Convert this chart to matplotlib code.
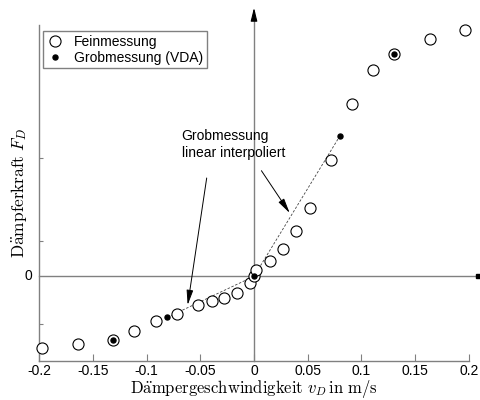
import matplotlib
matplotlib.use('Agg')
import matplotlib.pyplot as plt
import matplotlib.transforms as mtransforms

plt.rcParams['font.family'] = ['Liberation Sans', 'DejaVu Sans']
plt.rcParams['mathtext.fontset'] = 'cm'

# Feinmessung (open circles)
fein_v = [-0.197, -0.164, -0.131, -0.112, -0.091, -0.072, -0.052, -0.039, -0.0275,
          -0.0158, -0.0034, 0.0, 0.0022, 0.0149, 0.027, 0.039, 0.0518, 0.0714,
          0.0909, 0.1107, 0.130, 0.1634, 0.1963]
fein_f = [-72, -68, -64, -55, -45, -38, -29, -25, -22, -17, -7, 0, 6.6, 15, 27.6,
          45, 68, 116, 172, 206, 222, 237, 246]

# Grobmessung (VDA) (filled dots)
grob_v = [-0.131, -0.0806, 0.0, 0.0797, 0.130]
grob_f = [-64, -41, 0, 140, 222]

# linear interpolation segment
interp_v = [-0.0806, 0.0, 0.0797]
interp_f = [-41, 0, 140]

xticks = [-0.2, -0.15, -0.1, -0.05, 0, 0.05, 0.1, 0.15, 0.2]
xticklabels = ['-0.2', '-0.15', '-0.1', '-0.05', '0', '0.05', '0.1', '0.15', '0.2']
yticks = [-48, 35, 118]

gray = '#808080'

fig = plt.figure(figsize=(4.81, 4.00), dpi=100)
ax = fig.add_axes([39 / 481, 39 / 400, 430 / 481, 336 / 400])
ax.set_xlim(-0.2, 0.2)
ax.set_ylim(-84.7, 251.3)

ax.plot(interp_v, interp_f, linestyle=(0, (3, 2)), color='#444444', linewidth=0.6, zorder=2)
ax.plot(fein_v, fein_f, 'o', markersize=8, markerfacecolor='white', clip_on=False,
        markeredgecolor='black', markeredgewidth=0.8, label='Feinmessung', zorder=3)
ax.plot(grob_v, grob_f, 'o', markersize=3.6, color='black', clip_on=False,
        label='Grobmessung (VDA)', zorder=4)

# axis lines with arrow tips
ax.plot([-0.2, 0.2083], [0, 0], color=gray, linewidth=1, clip_on=False, zorder=1)
ax.plot([0.2083], [0], marker='s', markersize=3, color='black', clip_on=False)
ax.plot([0, 0], [-84.7, 264], color=gray, linewidth=1, clip_on=False, zorder=1)
ax.annotate('', xy=(0, 271.3), xytext=(0, 254), xycoords='data',
            arrowprops=dict(arrowstyle='-|>,head_length=0.8,head_width=0.2',
                            color='black', linewidth=0.8), annotation_clip=False)

for s in ['top', 'right']:
    ax.spines[s].set_visible(False)
for s in ['left', 'bottom']:
    ax.spines[s].set_color(gray)
    ax.spines[s].set_linewidth(1)

ax.set_xticks(xticks)
ax.set_xticklabels(xticklabels, fontsize=10)
ax.set_yticks(yticks)
ax.set_yticklabels([])
ax.tick_params(axis='x', direction='in', length=5, color=gray, pad=2.5)
ax.tick_params(axis='y', direction='in', length=3, color=gray)

trans = mtransforms.blended_transform_factory(ax.transAxes, ax.transData)
ax.text(-0.015, 0, '0', transform=trans, ha='right', va='center', fontsize=10)

ax.set_xlabel(r'$\mathrm{D\ddot{a}mpergeschwindigkeit}\ v_D\,\mathrm{in\ m/s}$',
              fontsize=12, labelpad=-0.5)
ax.set_ylabel(r'$\mathrm{D\ddot{a}mpferkraft}\ F_D$', fontsize=12.5, labelpad=4)

ax.text(-0.0673, 131.8, 'Grobmessung\nlinear interpoliert', fontsize=10,
        ha='left', va='center', linespacing=1.25)
arrow = dict(arrowstyle='-|>,head_length=0.9,head_width=0.2', color='black', linewidth=0.7,
             shrinkA=0, shrinkB=0)
ax.annotate('', xy=(-0.0617, -28.7), xytext=(-0.044, 98.3), arrowprops=arrow)
ax.annotate('', xy=(0.0332, 63.3), xytext=(0.0069, 105.6), arrowprops=arrow)

leg = ax.legend(loc='upper left', bbox_to_anchor=(0.0093, 0.982), borderaxespad=0,
                fancybox=False, edgecolor=gray, fontsize=10, handlelength=1.2,
                handletextpad=0.8, borderpad=0.25, labelspacing=0.15, framealpha=1)
leg.get_frame().set_linewidth(1)

fig.savefig('out.png', dpi=100)
